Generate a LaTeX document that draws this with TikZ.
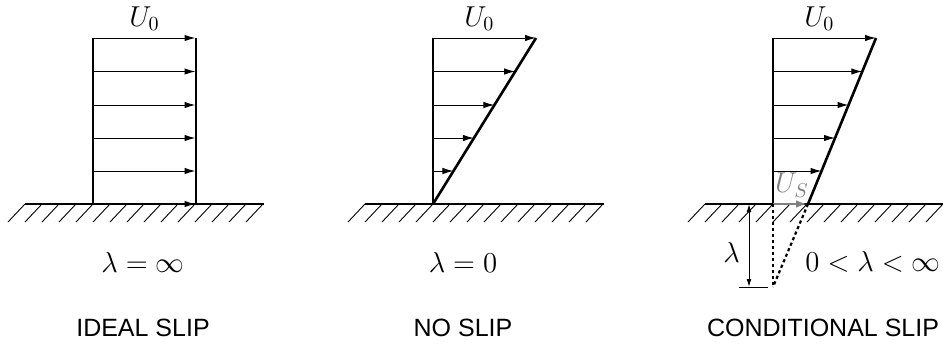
\documentclass[tikz,border=0pt]{standalone}
\usepackage{amsmath}
\usepackage{fontspec}
\setsansfont{Liberation Sans}
\usetikzlibrary{arrows.meta,positioning,calc}
\definecolor{slipgray}{RGB}{128,128,128}

\begin{document}
\begin{tikzpicture}[
  x=0.5pt, y=-0.5pt,
  every node/.style={font=\fontsize{12.5}{15}\selectfont},
  wall/.style={line width=1.3pt},
  ground/.style={line width=1.1pt},
  hatch/.style={line width=0.45pt},
  vel/.style={line width=0.5pt, -{Latex[length=5.5pt,width=3.2pt]}},
  slipvel/.style={slipgray, line width=1.2pt, -{Latex[length=6pt,width=3.8pt]}},
  ext/.style={line width=1.1pt, dash pattern=on 1.6pt off 1.4pt},
  dim/.style={line width=0.5pt, {Latex[length=4pt,width=2.4pt]}-{Latex[length=4pt,width=2.4pt]}},
  mlbl/.style={font=\fontsize{14}{16}\selectfont},
  caption/.style={font=\sffamily\fontsize{12.5}{15}\selectfont}
]
\useasboundingbox (0,0) rectangle (943,344);

\coordinate (w1t) at (93,38);  \coordinate (w1b) at (93,204);
\coordinate (p1t) at (196,38); \coordinate (p1b) at (196,204);
\coordinate (w2t) at (433,38); \coordinate (w2b) at (433,204);
\coordinate (p2t) at (536,38);
\coordinate (w3t) at (773,38); \coordinate (w3b) at (773,204);
\coordinate (p3t) at (876,38); \coordinate (s3) at (808,204);
\coordinate (v3) at (773,287);

\foreach \gx in {25,365,705}{
  \draw[ground] (\gx,204) -- ++(239,0);
  \foreach \h in {0,...,14}
    \draw[hatch] (\gx+17*\h,204) -- ++(-17,18);
}

\foreach \vy in {38,71.5,105,138,171,204}
  \draw[vel] (93,\vy) -- (195.5,\vy);
\draw[wall] (w1t) -- (w1b);
\draw[wall] (p1t) -- (p1b);

\foreach \vy in {38,71.5,105,138,171}
  \draw[vel] (433,\vy) -- ({433+0.6205*(204-\vy)},\vy);
\draw[wall] (w2t) -- (w2b);
\draw[wall] (w2b) -- (p2t);

\foreach \vy in {38,71.5,105,138,171}
  \draw[vel] (773,\vy) -- ({808+0.4096*(204-\vy)},\vy);
\draw[wall] (w3t) -- (w3b);
\draw[wall] (s3) -- (p3t);
\draw[slipvel] (w3b) -- (s3);
\draw[ext] (w3b) -- (v3);
\draw[ext] (s3) -- (v3);
\coordinate (d3t) at (749,204);
\coordinate (d3b) at (749,287);
\draw[dim] (d3t) -- (d3b);
\draw[line width=0.5pt] (739,287) -- (768,287);

\node[mlbl, above=0pt of $(w1t)!0.5!(p1t)$] (u1) {$U_0$};
\node[mlbl, above=0pt of $(w2t)!0.45!(p2t)$] (u2) {$U_0$};
\node[mlbl, above=0pt of $(w3t)!0.45!(p3t)$] (u3) {$U_0$};
\node[mlbl, text=slipgray] (us) at (792,185) {$U_S$};

\node[mlbl] (lam1) at (143,262) {$\lambda=\infty$};
\node[mlbl] (lam2) at (463,262) {$\lambda=0$};
\node[mlbl] (lam3) at (873,262) {$0<\lambda<\infty$};
\node[mlbl, left=1pt of $(d3t)!0.58!(d3b)$] (lamd) {$\lambda$};

\node[caption] (cap1) at (143,328) {IDEAL SLIP};
\node[caption] (cap2) at (463,328) {NO SLIP};
\node[caption] (cap3) at (823,328) {CONDITIONAL SLIP};
\end{tikzpicture}
\end{document}
